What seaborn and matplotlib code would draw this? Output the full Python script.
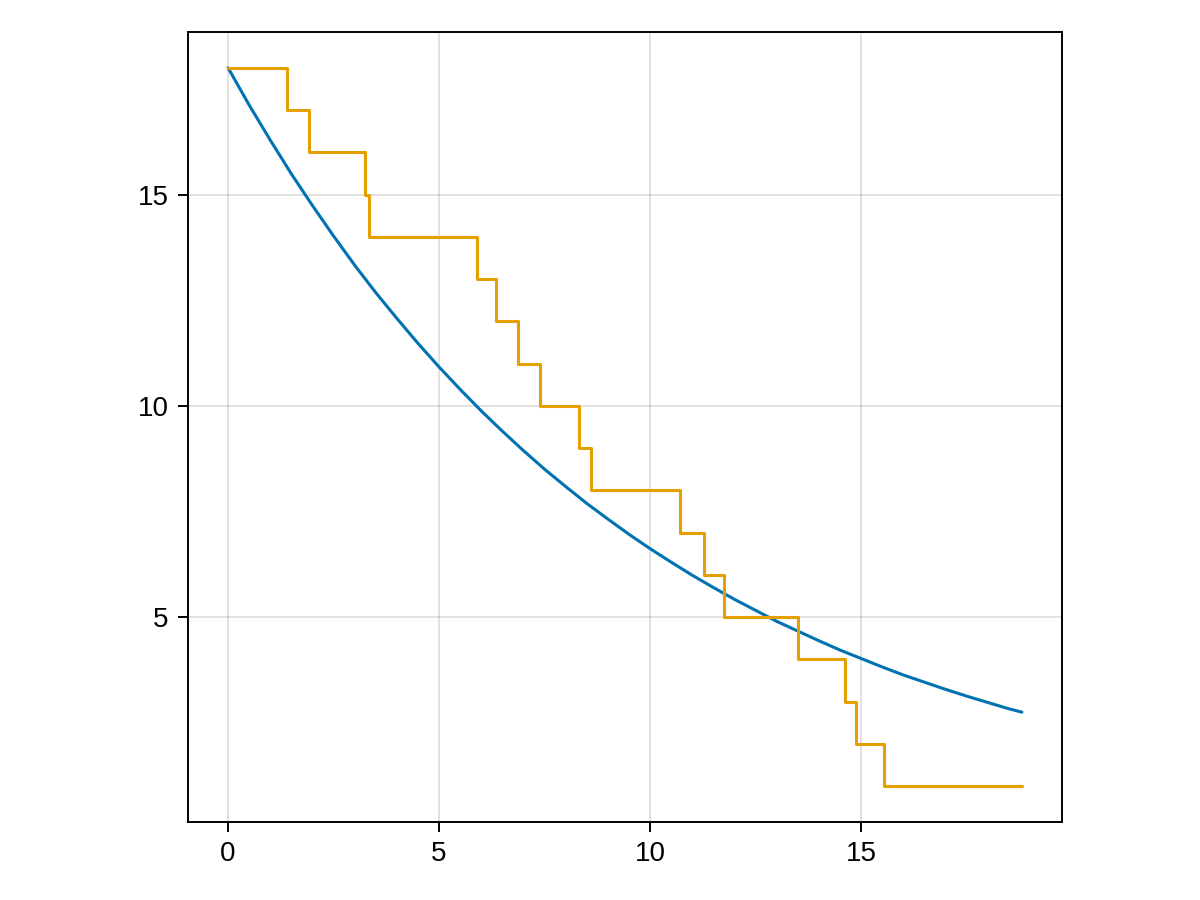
import numpy as np
import pandas as pd
import matplotlib
matplotlib.use('Agg')
import matplotlib.pyplot as plt
import seaborn as sns

# Smooth decay curve, values every half time unit
curve_t = [0, 0.5, 1, 1.5, 2, 2.5, 3, 3.5, 4, 4.5, 5, 5.5, 6, 6.5, 7, 7.5, 8, 8.5, 9, 9.5,
           10, 10.5, 11, 11.5, 12, 12.5, 13, 13.5, 14, 14.5, 15, 15.5, 16, 16.5, 17, 17.5,
           18, 18.5, 18.81]
curve_y = [18.0, 17.12, 16.29, 15.49, 14.74, 14.02, 13.33, 12.68, 12.07, 11.48,
           10.92, 10.39, 9.88, 9.40, 8.94, 8.50, 8.09, 7.69, 7.32, 6.96,
           6.62, 6.30, 5.99, 5.70, 5.42, 5.16, 4.90, 4.67, 4.44, 4.22,
           4.02, 3.82, 3.63, 3.46, 3.29, 3.13, 2.98, 2.83, 2.75]

# Step counts: time at which each level starts
step_t = [0, 1.39, 1.91, 3.25, 3.33, 5.89, 6.35, 6.86, 7.39, 8.31,
          8.60, 10.71, 11.28, 11.74, 13.50, 14.62, 14.87, 15.55, 18.81]
step_y = [18, 17, 16, 15, 14, 13, 12, 11, 10, 9,
          8, 7, 6, 5, 4, 3, 2, 1, 1]

curve_df = pd.DataFrame({'t': curve_t, 'y': curve_y})
step_df = pd.DataFrame({'t': step_t, 'y': step_y})

sns.set_style('white')
plt.rcParams['font.family'] = ['Liberation Sans', 'DejaVu Sans']

fig = plt.figure(figsize=(12, 9), dpi=100)
ax = fig.add_axes([188 / 1200, 1 - 822 / 900, (1062 - 188) / 1200, (822 - 32) / 900])

sns.lineplot(data=curve_df, x='t', y='y', ax=ax, color='#0072B2', linewidth=2.2)
sns.lineplot(data=step_df, x='t', y='y', ax=ax, color='#E69F00', linewidth=2.2,
             drawstyle='steps-post')

ax.set_xlim(-0.95, 19.76)
ax.set_ylim(0.15, 18.85)
ax.set_xticks([0, 5, 10, 15])
ax.set_yticks([5, 10, 15])
ax.set_xlabel('')
ax.set_ylabel('')
ax.grid(True, color='black', alpha=0.12, linewidth=1.4)
ax.set_axisbelow(True)
for s in ax.spines.values():
    s.set_color('black')
    s.set_linewidth(1.4)
ax.tick_params(axis='both', direction='out', length=7, width=1.4, pad=7,
               labelsize=20, color='black', labelcolor='black', bottom=True, left=True)

fig.savefig('out.png', dpi=100)
